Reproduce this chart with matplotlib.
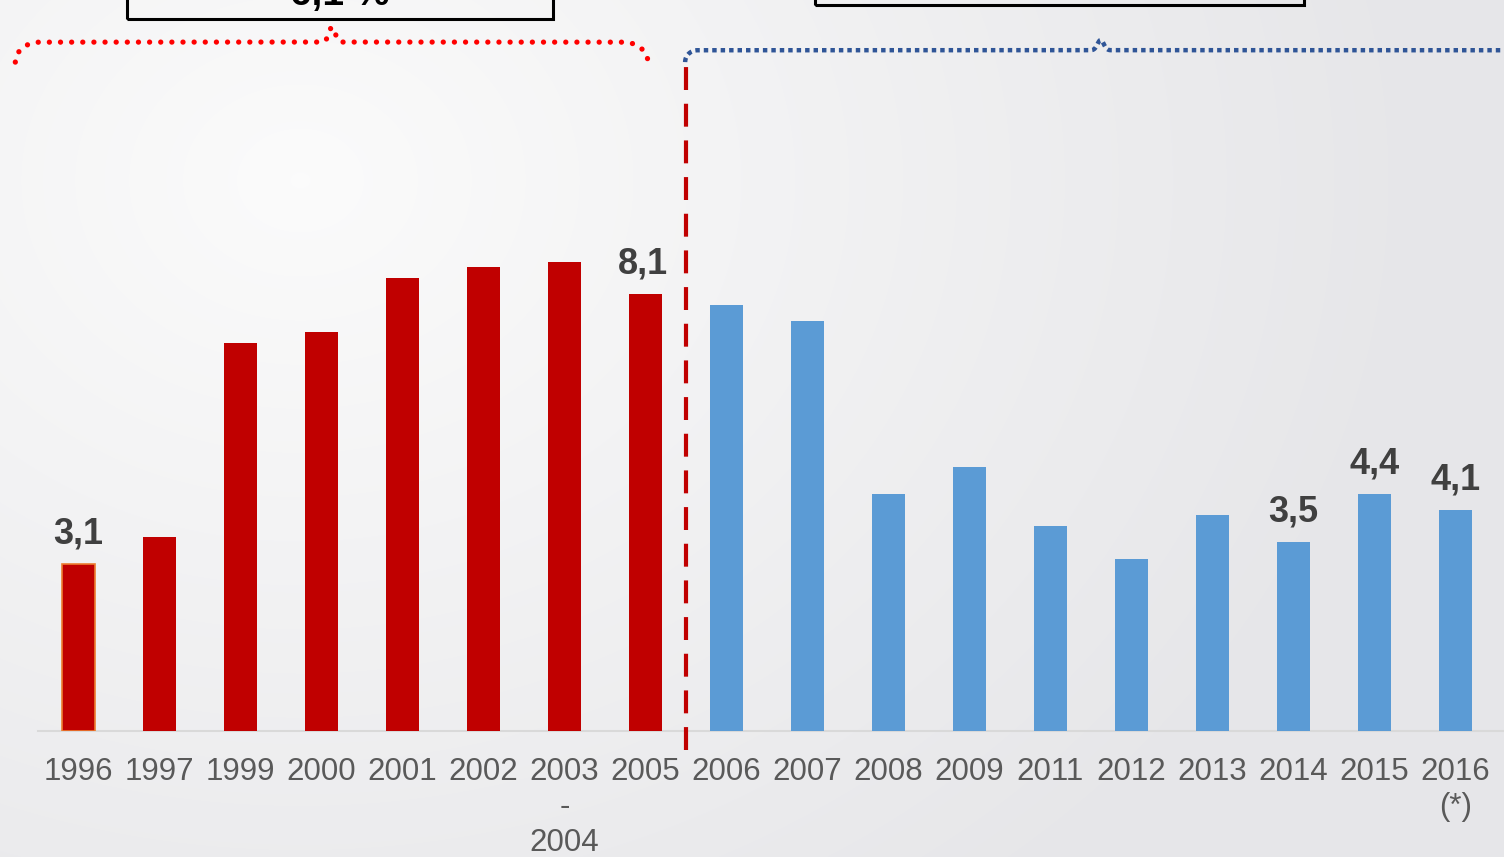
import numpy as np
import matplotlib.pyplot as plt

plt.rcParams['font.family'] = ['Liberation Sans', 'DejaVu Sans']

# data
years = ["1996", "1997", "1999", "2000", "2001", "2002", "2003\n-\n2004", "2005",
         "2006", "2007", "2008", "2009", "2011", "2012", "2013", "2014", "2015", "2016\n(*)"]
values = [3.1, 3.6, 7.2, 7.4, 8.4, 8.6, 8.7, 8.1,
          7.9, 7.6, 4.4, 4.9, 3.8, 3.2, 4.0, 3.5, 4.4, 4.1]
n_first = 8  # first period (red), rest blue
shown_labels = {0: "3,1", 7: "8,1", 15: "3,5", 16: "4,4", 17: "4,1"}
box_texts = ["6,1 %", "4,8 %"]

RED = "#C00000"
BLUE = "#5B9BD5"

fig = plt.figure(figsize=(15.04, 8.57), dpi=100)

# soft radial background
bg = fig.add_axes([0, 0, 1, 1])
bg.axis("off")
yy, xx = np.mgrid[0:857, 0:1504]
r = np.sqrt(((xx - 300) / 1100.0) ** 2 + ((yy - 180) / 900.0) ** 2)
r = np.clip(r, 0, 1)
light = np.array([0.985, 0.985, 0.985])
dark = np.array([0.905, 0.905, 0.915])
img = light[None, None, :] * (1 - r[..., None]) + dark[None, None, :] * r[..., None]
bg.imshow(img, extent=[0, 1, 0, 1], aspect="auto", origin="upper")

ax = fig.add_axes([38 / 1504, 126 / 857, 1 - 38 / 1504, 731 / 857])
ax.patch.set_alpha(0)
x = np.arange(len(years))
colors = [RED] * n_first + [BLUE] * (len(years) - n_first)
bars = ax.bar(x, values, width=0.41, color=colors, zorder=3)
bars[0].set_edgecolor("#ED7D31")
bars[0].set_linewidth(1.2)

ax.set_xlim(-0.5, 17.6)
ax.set_ylim(0, 731 / 53.9)
ax.set_xticks(x)
ax.set_xticklabels(years, linespacing=1.22)
ax.tick_params(axis="x", length=0, pad=19, labelsize=22.5, labelcolor="#595959")
ax.set_yticks([])
for s in ["top", "right", "left"]:
    ax.spines[s].set_visible(False)
ax.spines["bottom"].set_color("#D9D9D9")
ax.spines["bottom"].set_linewidth(1.5)

for i, lab in shown_labels.items():
    ax.text(x[i] - (0.03 if i == 7 else 0), values[i] + 0.38, lab, ha="center",
            va="baseline", fontsize=26, fontweight="bold", color="#404040", zorder=4)

# divider between the two periods
ax.plot([7.5, 7.5], [-0.35, 12.4], color=RED, lw=3, dashes=(5.5, 3.3),
        clip_on=False, zorder=4)


def bracket(x0, x1, xm, y, drop, bump, rx):
    t = np.linspace(0, np.pi / 2, 20)
    left = np.c_[x0 + rx * (1 - np.cos(t)), y - drop * (1 - np.sin(t))]
    bw = 0.12
    s = np.linspace(-1, 1, 31)
    mid = np.c_[xm + bw * s, y + bump * np.exp(-(s * 2.2) ** 2)]
    right = np.c_[x1 - rx * (1 - np.cos(t[::-1])), y - drop * (1 - np.sin(t[::-1]))]
    pts = np.vstack([left, mid, right])
    return pts[:, 0], pts[:, 1]


bx, by = bracket(-0.78, 7.03, 3.13, 12.78, 0.37, 0.28, 0.3)
ax.plot(bx, by, color="#FF0000", lw=3.8, linestyle=(0, (0.01, 2.1)),
        dash_capstyle="round", solid_capstyle="round", clip_on=False, zorder=4)
bx, by = bracket(7.49, 18.2, 12.62, 12.63, 0.22, 0.19, 0.15)
ax.plot(bx, by, color="#2F5597", lw=3.2, linestyle=(0, (1, 0.9)),
        dash_capstyle="butt", clip_on=False, zorder=4)

# boxes at the top (mostly cut off in the original too)
for (xa, xb, yb), txt, ty in zip([(0.6, 5.86, 13.21), (9.09, 15.13, 13.47)],
                                 box_texts, [13.47, 13.69]):
    ax.add_patch(plt.Rectangle((xa, yb), xb - xa, 2, fill=False, ec="black",
                               lw=2.2, clip_on=False, zorder=5))
    ax.text((xa + xb) / 2, ty, txt, ha="center", va="baseline", fontsize=28,
            fontweight="bold", color="black", clip_on=False, zorder=5)

fig.savefig("out.png", dpi=100)
